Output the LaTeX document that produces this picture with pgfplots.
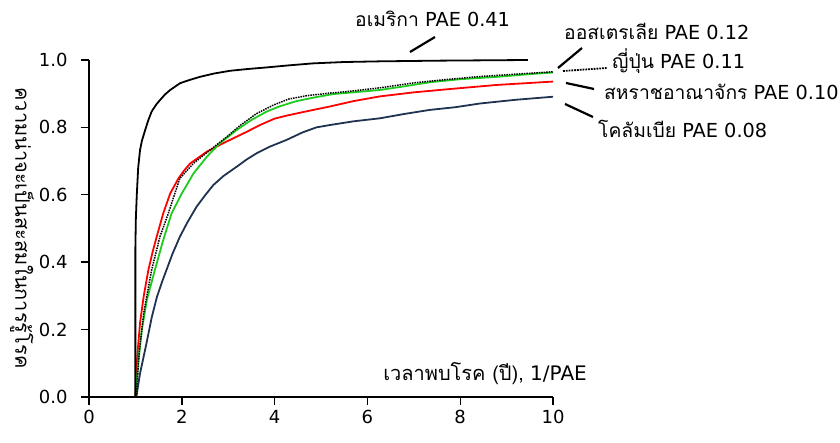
\documentclass[border=0pt]{standalone}
\usepackage{fontspec}
\setmainfont{DejaVu Sans}
\newfontfamily\thai[Script=Thai]{Loma}
\usepackage{pgfplots}
\pgfplotsset{compat=1.18}
\definecolor{navy}{HTML}{1F3350}
\definecolor{grn}{HTML}{1ECC1E}
\newcommand{\fs}{\fontsize{18bp}{22bp}\selectfont}
\newcommand{\fa}{\fontsize{19.3bp}{23bp}\selectfont}
\newcommand{\fx}{\fontsize{20bp}{24bp}\selectfont}
\begin{document}
\begin{tikzpicture}
\useasboundingbox (-89bp,-46bp) rectangle (751bp,397bp);
\begin{axis}[
  at={(0,0)}, anchor=south west,
  scale only axis, width=464bp, height=337bp,
  xmin=0, xmax=10, ymin=0, ymax=1,
  axis x line*=bottom, axis y line*=left,
  axis line style={line width=1.4bp},
  tick align=outside, major tick length=8bp,
  tick style={line width=1.4bp, black},
  xtick={0,2,4,6,8,10}, ytick={0,0.2,0.4,0.6,0.8,1.0},
  yticklabel style={/pgf/number format/fixed, /pgf/number format/fixed zerofill, /pgf/number format/precision=1, xshift=-10bp},
  xticklabel style={yshift=-2bp},
  /pgf/number format/assume math mode=true,
  tick label style={font=\fs},
  clip=false,
]
\addplot[navy, line width=1.8bp] coordinates {
(1.02,0) (1.10,0.07) (1.24,0.160) (1.35,0.235) (1.46,0.295) (1.57,0.340) (1.67,0.377) (1.80,0.425) (1.96,0.476)
(2.12,0.518) (2.32,0.565) (2.50,0.598) (2.68,0.629) (2.90,0.656) (3.18,0.683) (3.40,0.705) (3.61,0.723) (3.90,0.743)
(4.26,0.763) (4.60,0.785) (4.9,0.800) (5.19,0.807) (5.7,0.818) (6.27,0.827) (6.8,0.840)
(7.35,0.852) (7.9,0.860) (8.43,0.871) (9.2,0.882) (10,0.891)};
\addplot[red, line width=1.8bp] coordinates {
(1.0,0) (1.04,0.12) (1.10,0.22) (1.18,0.30) (1.28,0.377) (1.37,0.43) (1.46,0.476) (1.60,0.545) (1.75,0.604)
(1.93,0.649) (2.05,0.672) (2.18,0.693) (2.54,0.728) (2.89,0.753) (3.40,0.787) (3.7,0.808) (4.0,0.826) (4.26,0.835)
(4.7,0.848) (5.19,0.862) (5.7,0.878) (6.27,0.892) (7.0,0.904) (7.71,0.913)
(8.79,0.926) (10,0.936)};
\addplot[grn, line width=1.8bp] coordinates {
(1.0,0) (1.06,0.10) (1.14,0.20) (1.25,0.29) (1.42,0.377) (1.60,0.466) (1.78,0.545) (2.0,0.604) (2.25,0.663)
(2.54,0.713) (2.82,0.753) (3.18,0.792) (3.5,0.822) (3.83,0.847) (4.1,0.862) (4.47,0.878) (4.9,0.890) (5.27,0.899) (6.27,0.911)
(6.8,0.922) (7.35,0.934) (8.0,0.943) (8.79,0.950) (9.4,0.957) (10,0.963)};
\addplot[black, line width=1.5bp, densely dotted] coordinates {
(1.02,0) (1.08,0.13) (1.18,0.25) (1.35,0.377) (1.53,0.476) (1.71,0.545) (1.85,0.604) (1.96,0.649)
(2.25,0.693) (2.61,0.733) (2.97,0.772) (3.25,0.805) (3.6,0.840) (3.97,0.866) (4.3,0.884) (4.69,0.894) (5.2,0.902) (5.55,0.906)
(6.3,0.918) (6.99,0.932) (7.7,0.942) (8.43,0.951) (9.2,0.958) (10,0.965)};
\addplot[black, line width=1.8bp] coordinates {
(1.0,0) (1.0,0.446) (1.01,0.53) (1.03,0.600) (1.06,0.680) (1.10,0.733) (1.14,0.760) (1.21,0.792) (1.28,0.822) (1.35,0.847) (1.45,0.868) (1.53,0.881) (1.64,0.898) (1.75,0.911)
(1.96,0.931) (2.15,0.940) (2.39,0.950) (2.7,0.960) (3.04,0.968) (3.4,0.973) (3.83,0.978) (4.3,0.984) (4.83,0.990) (5.5,0.994) (6.27,0.996) (7.5,0.998) (9.46,1.0)};
\end{axis}
% y label
\node[rotate=-90, font=\thai\fx] at (-67bp,169bp) {ความน่าจะเป็นสะสมในการรู้โรค};
% x label
\node[anchor=base east, font=\fx, inner sep=0pt] at (498bp,16.6bp) {{\thai เวลาพบโรค (ปี),} 1/PAE};
% annotations
\node[anchor=base west, font=\fa, inner sep=0pt] at (266bp,370bp) {{\thai อเมริกา} PAE 0.41};
\node[anchor=base west, font=\fa, inner sep=0pt] at (475bp,357.7bp) {{\thai ออสเตรเลีย} PAE 0.12};
\node[anchor=base west, font=\fa, inner sep=0pt] at (523bp,328.7bp) {{\thai ญี่ปุ่น} PAE 0.11};
\node[anchor=base west, font=\fa, inner sep=0pt] at (515bp,297bp) {{\thai สหราชอาณาจักร} PAE 0.10};
\node[anchor=base west, font=\fa, inner sep=0pt] at (509bp,259.3bp) {{\thai โคลัมเบีย} PAE 0.08};
\draw[line width=2.2bp] (321bp,345bp) -- (346bp,360bp);
\draw[line width=2.2bp] (469bp,329bp) -- (493bp,349bp);
\draw[line width=1.8bp, densely dotted] (474bp,326bp) -- (518bp,329bp);
\draw[line width=2.2bp] (477bp,314bp) -- (505bp,308bp);
\draw[line width=2.2bp] (476bp,293bp) -- (504bp,280bp);
\end{tikzpicture}
\end{document}
